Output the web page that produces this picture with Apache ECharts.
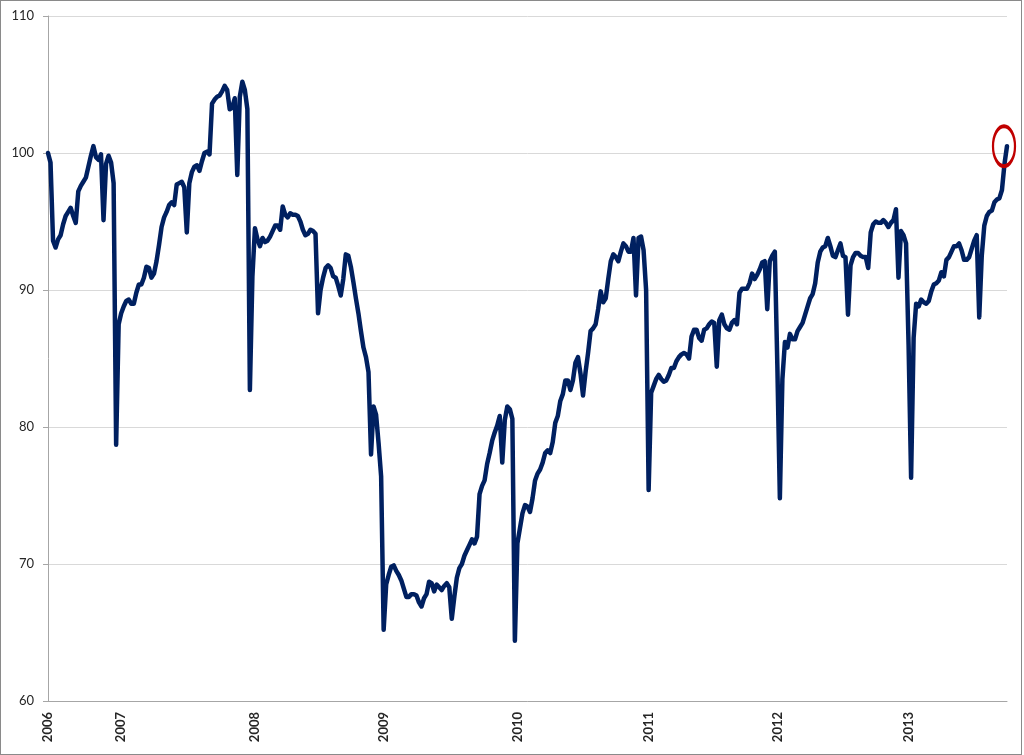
<!DOCTYPE html>
<html>
<head>
<meta charset="utf-8">
<script src="https://cdn.jsdelivr.net/npm/echarts@6/dist/echarts.min.js"></script>
<style>
  html, body { margin: 0; padding: 0; background: #fff; }
  #chart { width: 1022px; height: 755px; border: 1px solid #8a8a8a; box-sizing: border-box; background: #fff; }
</style>
</head>
<body>
<div id="chart"></div>
<script>
// Weekly index values (first week: 2006-06-10)
const startDate = '2006-06-10';
const v2006 = [100.0,99.3,93.6,93.1,93.7,94.0,94.8,95.4,95.7,96.0,95.4,94.9,97.2,97.6,97.9,98.2,99.0,99.8,100.5,99.7,99.5,99.9,95.1,99.2,99.8,99.3,97.8,78.7,87.5];
const v2007 = [88.3,88.8,89.2,89.3,89.0,89.0,89.8,90.4,90.4,90.9,91.7,91.6,90.9,91.2,92.1,93.3,94.6,95.3,95.7,96.2,96.4,96.2,97.7,97.8,97.9,97.5,94.2,97.8,98.6,99.0,99.1,98.7,99.4,100.0,100.1,99.9,103.6,103.9,104.1,104.2,104.5,104.9,104.6,103.2,103.3,104.0,98.4,104.1,105.2,104.6,103.2,82.7,91.0];
const v2008 = [94.5,93.7,93.2,93.8,93.5,93.6,93.9,94.3,94.7,94.7,94.4,96.1,95.5,95.3,95.6,95.5,95.5,95.4,95.0,94.4,94.0,94.1,94.4,94.3,94.1,88.3,90.0,90.9,91.6,91.8,91.6,91.0,90.9,90.3,89.6,90.8,92.6,92.5,91.7,90.6,89.4,88.3,87.0,85.8,85.1,84.0,78.0,81.5,80.9,78.8,76.4];
const v2009 = [65.2,68.5,69.2,69.8,69.9,69.5,69.2,68.8,68.2,67.6,67.6,67.8,67.8,67.7,67.2,66.9,67.5,67.8,68.7,68.6,68.0,68.5,68.3,68.1,68.4,68.6,68.3,66.0,67.6,69.0,69.7,70.0,70.6,71.0,71.4,71.8,71.5,72.0,75.1,75.7,76.1,77.3,78.1,79.0,79.6,80.1,80.8,77.4,80.5,81.5,81.3,80.6,64.4];
const v2010 = [71.5,72.6,73.7,74.3,74.2,73.8,74.8,76.1,76.6,76.9,77.4,78.1,78.3,78.1,78.9,80.3,80.8,81.9,82.4,83.4,83.4,82.7,83.4,84.7,85.1,83.9,82.3,84.0,85.4,87.0,87.2,87.5,88.6,89.9,89.1,89.4,90.8,92.1,92.6,92.4,92.1,92.8,93.4,93.2,92.8,92.8,93.8,89.6,93.8,93.9,92.9,90.0];
const v2011 = [75.4,82.5,83.0,83.5,83.8,83.5,83.3,83.4,83.8,84.3,84.3,84.8,85.1,85.3,85.4,85.3,85.0,86.6,87.1,87.1,86.5,86.3,87.1,87.2,87.5,87.7,87.6,84.4,87.8,88.2,87.5,87.2,87.1,87.6,87.8,87.5,89.8,90.1,90.1,90.1,90.5,91.2,90.8,91.1,91.5,92.0,92.1,88.6,92.1,92.5,92.8];
const v2012 = [84.5,74.8,83.5,86.2,85.8,86.8,86.4,86.4,87.0,87.3,87.6,88.2,88.8,89.4,89.7,90.5,92.0,92.8,93.1,93.2,93.8,93.2,92.5,92.4,92.9,93.4,92.5,92.4,88.2,91.8,92.4,92.7,92.7,92.5,92.4,92.4,91.6,94.2,94.8,95.0,94.9,94.9,95.1,94.9,94.6,94.9,95.1,95.9,90.9,94.3,94.0,93.4];
const v2013 = [86.0,76.3,86.5,89.0,88.8,89.3,89.1,89.0,89.2,89.9,90.4,90.5,90.7,91.3,91.0,92.2,92.4,92.8,93.2,93.2,93.4,92.9,92.2,92.2,92.4,93.0,93.6,94.0,88.0,92.5,94.7,95.4,95.7,95.8,96.4,96.6,96.7,97.3,99.2,100.5];

// x-axis tick labels and the week index where each appears
const yearLabels  = ['2006','2007','2008','2009','2010','2011','2012','2013'];
const yearTickIdx = [0, 29, 82, 133, 186, 238, 289, 341];

// y-axis
const yMin = 60, yMax = 110, yStep = 10;

const values = [].concat(v2006, v2007, v2008, v2009, v2010, v2011, v2012, v2013);

// weekly category dates
const weeks = [];
{
  const d0 = new Date(startDate + 'T00:00:00Z');
  for (let i = 0; i < values.length; i++) {
    const d = new Date(d0.getTime() + i * 7 * 86400000);
    weeks.push(d.toISOString().slice(0, 10));
  }
}
const tickLabelAt = {};
yearTickIdx.forEach((idx, k) => { tickLabelAt[idx] = yearLabels[k]; });

const chart = echarts.init(document.getElementById('chart'), null, { renderer: 'canvas' });
const FONT = 'Lato, "Open Sans", sans-serif';
chart.setOption({
  animation: false,
  backgroundColor: '#ffffff',
  grid: { left: 47, right: 14, top: 15, bottom: 53, containLabel: false },
  xAxis: {
    type: 'category',
    data: weeks,
    boundaryGap: false,
    axisLine: { show: true, lineStyle: { color: '#a6a6a6', width: 1 } },
    axisTick: { show: false },
    splitLine: { show: false },
    axisLabel: {
      interval: function (index) { return tickLabelAt.hasOwnProperty(index); },
      formatter: function (value, index) { return tickLabelAt[index] || ''; },
      rotate: 90,
      margin: 11,
      fontSize: 13,
      fontWeight: 'bold',
      fontFamily: FONT,
      color: '#262626',
      hideOverlap: false
    }
  },
  yAxis: {
    type: 'value',
    min: yMin,
    max: yMax,
    interval: yStep,
    axisLine: { show: true, lineStyle: { color: '#a6a6a6', width: 1 } },
    axisTick: { show: true, length: 5, lineStyle: { color: '#a6a6a6' } },
    splitLine: { show: true, lineStyle: { color: '#d9d9d9', width: 1 } },
    axisLabel: { fontSize: 13, fontFamily: FONT, color: '#262626', margin: 14 }
  },
  series: [{
    type: 'line',
    data: values,
    symbol: 'none',
    smooth: false,
    lineStyle: { color: '#002060', width: 4.5, join: 'round', cap: 'round' },
    markPoint: {
      silent: true,
      symbol: 'circle',
      symbolSize: [22, 40],
      symbolOffset: [-3, 0],
      itemStyle: { color: 'rgba(0,0,0,0)', borderColor: '#c00000', borderWidth: 3 },
      label: { show: false },
      data: [{ coord: [values.length - 1, values[values.length - 1]] }]
    }
  }]
});
</script>
</body>
</html>
